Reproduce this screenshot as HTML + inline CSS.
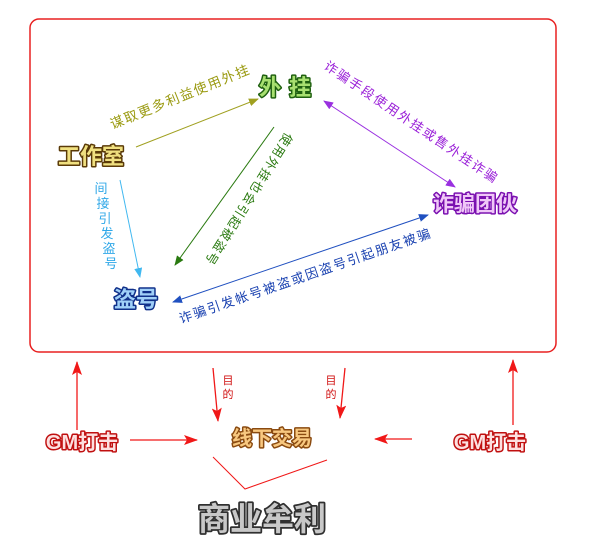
<!DOCTYPE html>
<html><head><meta charset="utf-8"><style>
html,body{margin:0;padding:0;background:#fff;width:600px;height:558px;overflow:hidden}
svg{display:block}
text{font-family:"Liberation Sans","WenQuanYi Zen Hei","Noto Sans CJK SC",sans-serif}
.big{font-weight:bold;paint-order:stroke;stroke-linejoin:round}
</style></head><body>
<svg width="600" height="558" viewBox="0 0 600 558" xmlns="http://www.w3.org/2000/svg">
<defs>
<marker id="ao" markerWidth="10" markerHeight="8" refX="9" refY="4" orient="auto" markerUnits="userSpaceOnUse"><path d="M0,0 L10,4 L0,8 Z" fill="#a0a020"/></marker>
<marker id="ag" markerWidth="10" markerHeight="8" refX="9" refY="4" orient="auto" markerUnits="userSpaceOnUse"><path d="M0,0 L10,4 L0,8 Z" fill="#2a7a10"/></marker>
<marker id="ac" markerWidth="10" markerHeight="8" refX="9" refY="4" orient="auto" markerUnits="userSpaceOnUse"><path d="M0,0 L10,4 L0,8 Z" fill="#40b8f0"/></marker>
<marker id="ab" markerWidth="10" markerHeight="8" refX="9" refY="4" orient="auto-start-reverse" markerUnits="userSpaceOnUse"><path d="M0,0 L10,4 L0,8 Z" fill="#2050c0"/></marker>
<marker id="ap" markerWidth="10" markerHeight="8" refX="9" refY="4" orient="auto-start-reverse" markerUnits="userSpaceOnUse"><path d="M0,0 L10,4 L0,8 Z" fill="#9a30e0"/></marker>
<marker id="ar" markerWidth="14" markerHeight="10" refX="13" refY="5" orient="auto" markerUnits="userSpaceOnUse"><path d="M0,0 L14,5 L0,10 L3,5 Z" fill="#f01818"/></marker>
</defs>
<rect x="30" y="19" width="526" height="333" rx="9" fill="none" stroke="#e82020" stroke-width="1.5"/>

<line x1="136" y1="147" x2="258" y2="99" stroke="#a0a020" stroke-width="1" marker-end="url(#ao)"/>
<line x1="274" y1="127" x2="175" y2="265" stroke="#2a7a10" stroke-width="1" marker-end="url(#ag)"/>
<line x1="120" y1="180" x2="140" y2="277" stroke="#40b8f0" stroke-width="1" marker-end="url(#ac)"/>
<line x1="173" y1="302" x2="428" y2="215" stroke="#2050c0" stroke-width="1" marker-start="url(#ab)" marker-end="url(#ab)"/>
<line x1="324" y1="101" x2="455" y2="187" stroke="#9a30e0" stroke-width="1" marker-start="url(#ap)" marker-end="url(#ap)"/>

<text x="182" y="101" transform="rotate(-22 182 101)" text-anchor="middle" font-size="13.5" letter-spacing="1.5" fill="#9a9a10">谋取更多利益使用外挂</text>
<text x="245" y="197" transform="rotate(122 245 197)" text-anchor="middle" font-size="12.5" letter-spacing="1.5" fill="#2a7a10">使用外挂也会引起被盗号</text>
<g font-size="13" fill="#30a8e8" text-anchor="middle">
<text x="101" y="193">间</text><text x="103" y="208">接</text><text x="105" y="223">引</text><text x="107" y="238">发</text><text x="109" y="253">盗</text><text x="111" y="268">号</text>
</g>
<text x="307" y="280" transform="rotate(-19 307 280)" text-anchor="middle" font-size="13" letter-spacing="1.8" fill="#1840b0">诈骗引发帐号被盗或因盗号引起朋友被骗</text>
<text x="409" y="126" transform="rotate(34 409 126)" text-anchor="middle" font-size="13" letter-spacing="1.8" fill="#9a20d8">诈骗手段使用外挂或售外挂诈骗</text>

<text class="big" x="91" y="164" text-anchor="middle" font-size="22" fill="#f0e080" stroke="#5a3a08" stroke-width="3">工作室</text>
<text class="big" x="289" y="95" text-anchor="middle" font-size="22" fill="#a8e070" stroke="#1f6010" stroke-width="3" letter-spacing="8">外挂</text>
<text class="big" x="475" y="211" text-anchor="middle" font-size="21" fill="#f0c8f8" stroke="#7a10b0" stroke-width="3">诈骗团伙</text>
<text class="big" x="136" y="307" text-anchor="middle" font-size="22" fill="#a0d0f8" stroke="#10308a" stroke-width="3">盗号</text>
<text class="big" x="272" y="445" text-anchor="middle" font-size="20" fill="#f8c880" stroke="#8a4a10" stroke-width="3">线下交易</text>
<text class="big" x="82" y="449" text-anchor="middle" font-size="20" fill="#fde0e0" stroke="#c01010" stroke-width="3">GM打击</text>
<text class="big" x="490" y="449" text-anchor="middle" font-size="20" fill="#fde0e0" stroke="#c01010" stroke-width="3">GM打击</text>
<text class="big" x="262" y="530" text-anchor="middle" font-size="32" fill="#c8c8c8" stroke="#303030" stroke-width="3.5">商业牟利</text>

<g stroke="#f01818" stroke-width="1.3" fill="none">
<line x1="77" y1="430" x2="77" y2="362" marker-end="url(#ar)"/>
<line x1="130" y1="440" x2="197" y2="440" marker-end="url(#ar)"/>
<line x1="213" y1="368" x2="218" y2="421" marker-end="url(#ar)"/>
<line x1="345" y1="368" x2="340" y2="418" marker-end="url(#ar)"/>
<line x1="513" y1="425" x2="513" y2="360" marker-end="url(#ar)"/>
<line x1="412" y1="439" x2="375" y2="439" marker-end="url(#ar)"/>
<polyline points="213,457 245,489 327,460" stroke-width="1"/>
</g>
<g font-size="11" fill="#d01010" text-anchor="middle">
<text x="228" y="384">目</text><text x="228" y="398">的</text>
<text x="331" y="384">目</text><text x="331" y="398">的</text>
</g>
</svg>
</body></html>
